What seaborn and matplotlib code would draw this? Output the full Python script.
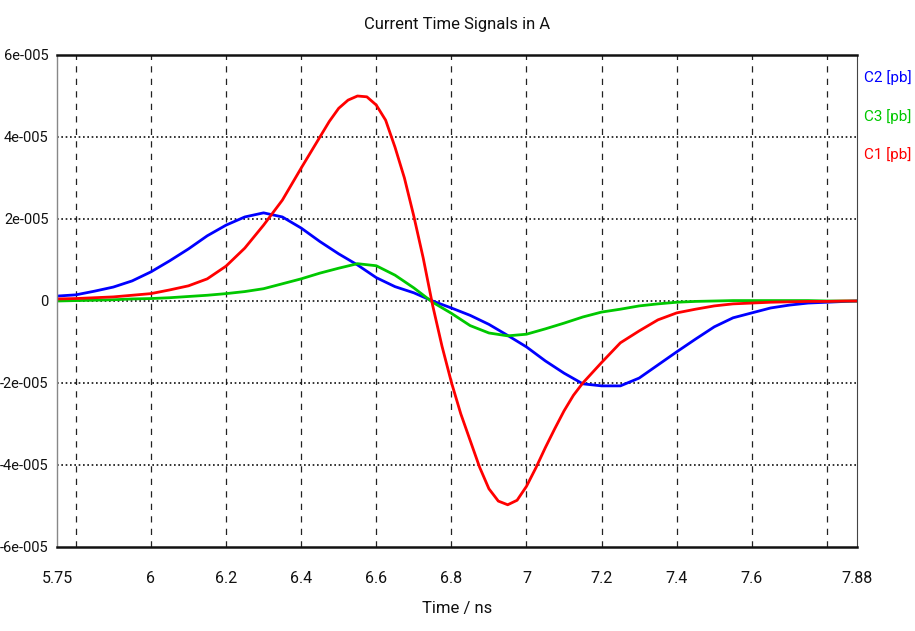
import numpy as np
import pandas as pd
import seaborn as sns
import matplotlib.pyplot as plt
from matplotlib.ticker import FixedLocator, FixedFormatter

# time axis in ns (C2, C3)
time_ns = [5.75, 5.80, 5.85, 5.90, 5.95, 6.00, 6.05, 6.10, 6.15, 6.20,
           6.25, 6.30, 6.35, 6.40, 6.45, 6.50, 6.55, 6.60, 6.65, 6.70,
           6.75, 6.80, 6.85, 6.90, 6.95, 7.00, 7.05, 7.10, 7.15, 7.20,
           7.25, 7.30, 7.35, 7.40, 7.45, 7.50, 7.55, 7.60, 7.65, 7.70,
           7.75, 7.80, 7.85, 7.88]

# currents in units of 1e-5 A
c2_pb = [0.12, 0.15, 0.24, 0.34, 0.49, 0.71, 0.98, 1.27, 1.59, 1.85,
         2.05, 2.15, 2.05, 1.78, 1.45, 1.15, 0.88, 0.57, 0.35, 0.20,
         0.00, -0.17, -0.35, -0.57, -0.84, -1.12, -1.46, -1.76, -2.02, -2.07,
         -2.07, -1.88, -1.56, -1.24, -0.93, -0.63, -0.41, -0.29, -0.17, -0.10,
         -0.05, -0.03, -0.01, 0.00]
c3_pb = [0.00, 0.01, 0.02, 0.03, 0.05, 0.06, 0.08, 0.11, 0.14, 0.18,
         0.23, 0.30, 0.42, 0.54, 0.68, 0.80, 0.91, 0.86, 0.63, 0.32,
         -0.03, -0.30, -0.60, -0.78, -0.85, -0.81, -0.68, -0.54, -0.39, -0.27,
         -0.20, -0.12, -0.07, -0.03, -0.01, 0.00, 0.01, 0.01, 0.01, 0.01,
         0.01, 0.00, 0.00, 0.00]

# C1 sampled more densely around its peak and trough
time_c1 = [5.75, 5.80, 5.85, 5.90, 5.95, 6.00, 6.05, 6.10, 6.15, 6.20,
           6.25, 6.30, 6.35, 6.40, 6.45, 6.475, 6.50, 6.525, 6.55, 6.575,
           6.60, 6.625, 6.65, 6.675, 6.70, 6.725, 6.75, 6.775, 6.80, 6.825,
           6.85, 6.875, 6.90, 6.925, 6.95, 6.975, 7.00, 7.025, 7.05, 7.075,
           7.10, 7.125, 7.15, 7.20, 7.25, 7.30, 7.35, 7.40, 7.45, 7.50,
           7.55, 7.60, 7.65, 7.70, 7.75, 7.80, 7.85, 7.88]
c1_pb = [0.05, 0.06, 0.08, 0.10, 0.14, 0.18, 0.27, 0.37, 0.54, 0.85,
         1.29, 1.85, 2.46, 3.24, 4.00, 4.38, 4.70, 4.90, 5.00, 4.98,
         4.78, 4.41, 3.75, 3.00, 2.07, 1.05, -0.10, -1.10, -1.98, -2.75,
         -3.40, -4.05, -4.58, -4.88, -4.97, -4.86, -4.52, -4.07, -3.58, -3.12,
         -2.68, -2.30, -2.00, -1.50, -1.02, -0.73, -0.46, -0.29, -0.20, -0.12,
         -0.07, -0.05, -0.03, -0.02, -0.01, -0.01, 0.00, 0.00]

series_names = ["C2 [pb]", "C3 [pb]", "C1 [pb]"]
series_colors = ["#0000ff", "#00c800", "#ff0000"]

x_ticks = [5.75, 5.8, 6.0, 6.2, 6.4, 6.6, 6.8, 7.0, 7.2, 7.4, 7.6, 7.8, 7.88]
x_labels = ["5.75", "", "6", "6.2", "6.4", "6.6", "6.8", "7", "7.2", "7.4", "7.6", "", "7.88"]
y_ticks = [-6, -4, -2, 0, 2, 4, 6]
y_labels = ["-6e-005", "-4e-005", "-2e-005", "0", "2e-005", "4e-005", "6e-005"]

df = pd.DataFrame({
    "t": time_ns + time_ns + time_c1,
    "I": c2_pb + c3_pb + c1_pb,
    "sig": [series_names[0]] * len(time_ns) + [series_names[1]] * len(time_ns)
           + [series_names[2]] * len(time_c1),
})

sns.set_style("white")
plt.rcParams['font.family'] = ['Roboto', 'DejaVu Sans']

fig = plt.figure(figsize=(9.15, 6.31), dpi=100)
ax = fig.add_axes([57 / 915, 1 - 547 / 631, 800 / 915, 492 / 631])

sns.lineplot(data=df, x="t", y="I", hue="sig", hue_order=series_names,
             palette=series_colors, linewidth=2.0, legend=False, ax=ax)

ax.set_xlim(5.75, 7.88)
ax.set_ylim(-6, 6)
ax.xaxis.set_major_locator(FixedLocator(x_ticks))
ax.xaxis.set_major_formatter(FixedFormatter(x_labels))
ax.set_yticks(y_ticks)
ax.set_yticklabels(y_labels)

# grid: dashed verticals, dotted horizontals
for xv in x_ticks[1:-1]:
    ax.axvline(xv, color="#222222", lw=0.9, ls=(0, (5, 5)), zorder=0)
for yv in y_ticks[1:-1]:
    ax.axhline(yv, color="#111111", lw=1.2, ls=(0, (1, 1.6)), zorder=0)

ax.tick_params(axis="both", direction="out", length=4, width=0.8,
               colors="#333333", labelcolor="#111111")
ax.tick_params(axis="x", pad=13, labelsize=11.5)
ax.tick_params(axis="y", pad=2, labelsize=10.5)

ax.spines["top"].set_linewidth(1.8)
ax.spines["bottom"].set_linewidth(1.8)
ax.spines["top"].set_color("#111111")
ax.spines["bottom"].set_color("#111111")
ax.spines["left"].set_color("#888888")
ax.spines["left"].set_linewidth(1.0)
ax.spines["right"].set_color("#444444")
ax.spines["right"].set_linewidth(0.8)

ax.set_xlabel("Time / ns", fontsize=12, color="#111111", labelpad=11)
ax.set_ylabel("")
fig.text(457 / 915, 1 - 25 / 631, "Current Time Signals in A", ha="center",
         va="center", fontsize=12, color="#111111")

legend_y = [78, 117, 155]
for name, col, yy in zip(series_names, series_colors, legend_y):
    fig.text(864 / 915, 1 - yy / 631, name, color=col, ha="left", va="center",
             fontsize=11)

plt.savefig("out.png", dpi=100)
plt.close()
